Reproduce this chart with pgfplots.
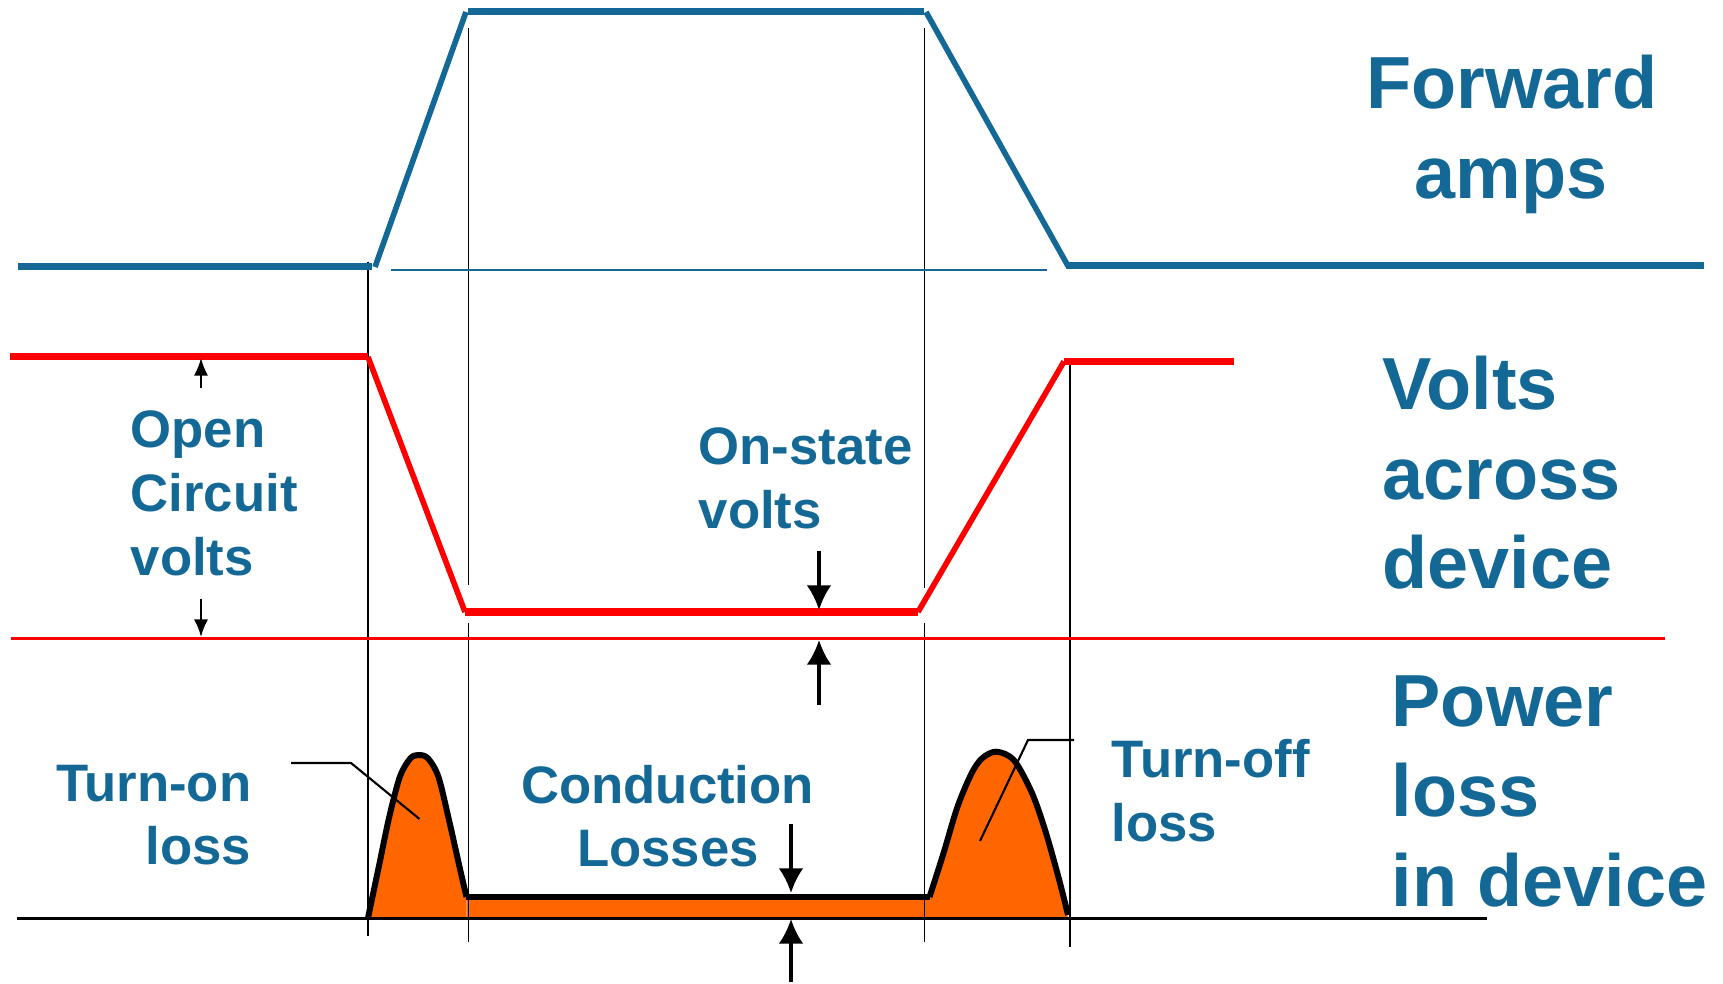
\documentclass[border=0pt]{standalone}
\usepackage{pgfplots}
\pgfplotsset{compat=1.18}
\usepgfplotslibrary{fillbetween}
\usetikzlibrary{arrows.meta}
\usepackage{fontspec}
\setmainfont{Liberation Sans}
\definecolor{myblue}{RGB}{20,104,150}
\definecolor{myorange}{RGB}{255,102,0}
\definecolor{myred}{RGB}{255,0,0}
\tikzset{
  big/.style={anchor=base west, inner sep=0pt, text=myblue, font=\bfseries\fontsize{21}{25}\selectfont},
  small/.style={anchor=base west, inner sep=0pt, text=myblue, font=\bfseries\fontsize{15}{18}\selectfont},
}
\begin{document}
\begin{tikzpicture}
\begin{axis}[
  scale only axis, width=17.23cm, height=9.83cm,
  xmin=0, xmax=1723, ymin=0, ymax=983, y dir=reverse,
  hide axis, clip=false,
]
\addplot[draw=none] coordinates {(0,0) (1723,983)};
% thin vertical guide lines
\addplot[black, line width=0.4pt] coordinates {(368,262) (368,936)};
\addplot[black, line width=0.4pt] coordinates {(468.5,28) (468.5,585)};
\addplot[black, line width=0.4pt] coordinates {(468.5,623) (468.5,942)};
\addplot[black, line width=0.4pt] coordinates {(924.6,28) (924.6,588)};
\addplot[black, line width=0.4pt] coordinates {(924.6,623) (924.6,942)};
\addplot[black, line width=0.4pt] coordinates {(1070,362) (1070,947)};
% current (blue)
\addplot[myblue, line width=2pt] coordinates {(18,267) (372,267)};
\addplot[myblue, line width=1.6pt] coordinates {(375,267) (466,12)};
\addplot[myblue, line width=2pt] coordinates {(468,12) (924,12)};
\addplot[myblue, line width=1.6pt] coordinates {(926,12) (1068,266)};
\addplot[myblue, line width=2pt] coordinates {(1066,266) (1704,266)};
\addplot[myblue, line width=0.8pt] coordinates {(391,270) (1047,270)};
% voltage (red)
\addplot[myred, line width=2pt] coordinates {(10,357) (368,357)};
\addplot[myred, line width=1.6pt] coordinates {(368,357) (465,612)};
\addplot[myred, line width=2.2pt] coordinates {(465,612) (918,612)};
\addplot[myred, line width=1.6pt] coordinates {(918,612) (1064,361.5)};
\addplot[myred, line width=2pt] coordinates {(1064,361.5) (1234,361.5)};
\addplot[myred, line width=0.6pt] coordinates {(11,638.5) (1665,638.5)};
% power loss: turn-on hump, conduction, turn-off hump
\addplot[name path=P1, draw=none, smooth] coordinates {
 (368,918) (378.8,866.7) (389.3,816.7) (399.9,776.7) (410.4,758.3) (418.8,755)
 (427.9,758.3) (438.4,776.7) (449,820) (459.5,866.7) (466.5,897)};
\addplot[name path=B1, draw=none] coordinates {(368,918) (466.5,918)};
\addplot[name path=PF, draw=none] coordinates {(466.5,897) (929.5,897)};
\addplot[name path=BF, draw=none] coordinates {(466.5,918) (929.5,918)};
\addplot[name path=P2, draw=none, smooth] coordinates {
 (929.5,897) (943.5,853.3) (957.5,806.7) (971.6,773.3) (982.1,758.3)
 (996.1,751.7) (1013.8,760) (1032,793) (1046,833) (1060,883) (1068,918)};
\addplot[name path=B2, draw=none] coordinates {(929.5,918) (1068,918)};
\addplot[myorange] fill between[of=P1 and B1];
\addplot[myorange] fill between[of=PF and BF];
\addplot[myorange] fill between[of=P2 and B2];
\addplot[black, line width=0.7pt] coordinates {(17,918.7) (1487,918.7)};
\addplot[black, line width=1.7pt, smooth, line join=round] coordinates {
 (368,918) (378.8,866.7) (389.3,816.7) (399.9,776.7) (410.4,758.3) (418.8,755)
 (427.9,758.3) (438.4,776.7) (449,820) (459.5,866.7) (466.5,897)};
\addplot[black, line width=1.7pt] coordinates {(466,897) (930,897)};
\addplot[black, line width=1.7pt, smooth, line join=round] coordinates {
 (929.5,897) (943.5,853.3) (957.5,806.7) (971.6,773.3) (982.1,758.3)
 (996.1,751.7) (1013.8,760) (1032,793) (1046,833) (1060,883) (1068,915)};
% callouts
\addplot[black, line width=0.6pt] coordinates {(291,763) (351,763) (419.5,819)};
\addplot[black, line width=0.6pt] coordinates {(1074,740) (1028,740) (980,841)};
% arrows
\addplot[black, line width=0.6pt, -{Latex[length=5pt,width=4pt]}] coordinates {(201,388) (201,358)};
\addplot[black, line width=0.6pt, -{Latex[length=5pt,width=4pt]}] coordinates {(201,599) (201,637)};
\addplot[black, line width=0.9pt, -{Latex[length=7pt,width=7pt]}] coordinates {(819,551) (819,610)};
\addplot[black, line width=0.9pt, -{Latex[length=7pt,width=7pt]}] coordinates {(819,705) (819,640)};
\addplot[black, line width=0.9pt, -{Latex[length=7pt,width=7pt]}] coordinates {(791,824) (791,893)};
\addplot[black, line width=0.9pt, -{Latex[length=7pt,width=7pt]}] coordinates {(791,982) (791,919)};
% labels
\node[big, anchor=base] at (axis cs:1512,109) {Forward};
\node[big, anchor=base] at (axis cs:1511,199) {amps};
\node[big] at (axis cs:1382,410) {Volts};
\node[big] at (axis cs:1382,500) {across};
\node[big] at (axis cs:1382,589) {device};
\node[big] at (axis cs:1391,727) {Power};
\node[big] at (axis cs:1391,817) {loss};
\node[big] at (axis cs:1391,907) {in device};
\node[small] at (axis cs:1111,778) {Turn-off};
\node[small] at (axis cs:1111,842) {loss};
\node[small, anchor=base east] at (axis cs:252,802) {Turn-on};
\node[small, anchor=base east] at (axis cs:252,865) {loss};
\node[small, anchor=base] at (axis cs:667.5,804) {Conduction};
\node[small, anchor=base] at (axis cs:668,867) {Losses};
\node[small] at (axis cs:130,448) {Open};
\node[small] at (axis cs:130,512) {Circuit};
\node[small] at (axis cs:130,576) {volts};
\node[small] at (axis cs:698,465) {On-state};
\node[small] at (axis cs:698,529) {volts};
\end{axis}
\end{tikzpicture}
\end{document}
